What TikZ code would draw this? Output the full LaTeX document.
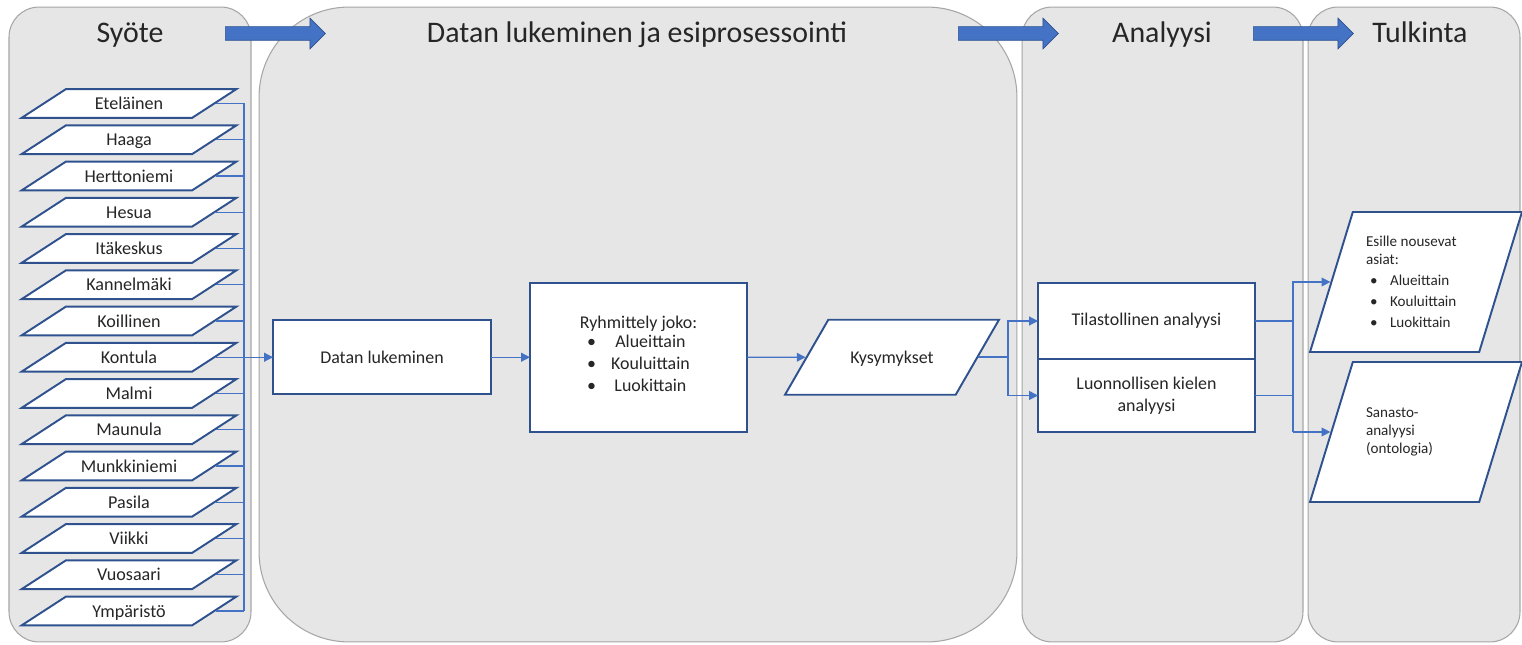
\documentclass[tikz,border=0pt]{standalone}
\usepackage{fontspec}
\setmainfont{Carlito}
\usetikzlibrary{shapes.geometric,shapes.arrows,arrows.meta}
\definecolor{panelgray}{HTML}{E6E6E6}
\definecolor{panelline}{HTML}{A6A6A6}
\definecolor{boxblue}{HTML}{2F528F}
\definecolor{linkblue}{HTML}{4472C4}
\tikzset{
>={Triangle[length=5pt,width=5pt]}, % small filled heads
panel/.style={draw=panelline, fill=panelgray, line width=0.6pt, inner sep=0pt},
title/.style={font=\fontsize{17}{20}\selectfont, text=black!85, anchor=base},
stagearrow/.style={single arrow, draw=boxblue, fill=linkblue, line width=0.4pt,
  minimum height=2cm, inner ysep=0.13cm, inner xsep=0pt,
  single arrow head extend=0.17cm, anchor=tail},
procbox/.style={draw=boxblue, fill=white, line width=1.1pt, align=center, outer sep=0pt,
  font=\fontsize{10.2}{12.5}\selectfont, text=black!85},
slanted/.style={trapezium, trapezium stretches body=true, inner xsep=0pt,
  draw=boxblue, fill=white, line width=1.1pt, text=black!85},
srcbox/.style={slanted, trapezium left angle=33, trapezium right angle=147,
  minimum width=4.3cm, text height=8pt, text depth=1pt, inner ysep=3.72pt,
  font=\fontsize{10.3}{12}\selectfont},
qbox/.style={slanted, trapezium left angle=60, trapezium right angle=120,
  minimum width=4.28cm, text height=8pt, text depth=1pt, inner ysep=16.84pt,
  font=\fontsize{10.2}{12}\selectfont},
outbox/.style={slanted, trapezium left angle=73, trapezium right angle=107,
  minimum width=4.24cm, inner ysep=0.35cm, font=\fontsize{8.6}{10.4}\selectfont},
link/.style={draw=linkblue, line width=0.6pt},
}
\newcommand{\outtext}[1]{\parbox[c][2.1cm][c]{2cm}{\raggedright #1}}
\newcommand{\outitem}{\hspace*{0.08cm}\makebox[0.4cm][l]{\textbullet}}
\begin{document}
\begin{tikzpicture}[x=0.02cm, y=-0.02cm]
\path[use as bounding box, fill=white] (0,0) rectangle (1522,645);
% stages
\node[panel, rounded corners=0.6cm, minimum width=4.84cm, minimum height=12.7cm] (inpanel) at (130,324.5) {};
\node[panel, rounded corners=1.8cm, minimum width=15.16cm, minimum height=12.7cm] (prepanel) at (638,324.5) {};
\node[panel, rounded corners=0.6cm, minimum width=5.62cm, minimum height=12.7cm] (anpanel) at (1162.5,324.5) {};
\node[panel, rounded corners=0.6cm, minimum width=4.24cm, minimum height=12.7cm] (outpanel) at (1414,324.5) {};
\node[title] (intitle) at (130,43) {Syöte};
\node[title] (pretitle) at (637,43) {Datan lukeminen ja esiprosessointi};
\node[title] (antitle) at (1162,43) {Analyysi};
\node[title] (outtitle) at (1420,43) {Tulkinta};
\node[stagearrow] (arrow1) at (225,33.5) {};
\node[stagearrow] (arrow2) at (958,33.5) {};
\node[stagearrow] (arrow3) at (1253,33.5) {};

% input files
\foreach \name [count=\i] in {Eteläinen,Haaga,Herttoniemi,Hesua,Itäkeskus,Kannelmäki,Koillinen,
  Kontula,Malmi,Maunula,Munkkiniemi,Pasila,Viikki,Vuosaari,Ympäristö}
  \node[srcbox] (src\i) at (129,{103.5+36.25*(\i-1)}) {\name};
\coordinate (bus) at (244,0);
\foreach \i in {1,...,15}
  \draw[link] (src\i.east) -- (src\i.east -| bus);
\draw[link] (src1.east -| bus) -- (src15.east -| bus);

% preprocessing
\node[procbox, minimum width=4.36cm, minimum height=1.48cm] (read) at (382,357.25) {Datan lukeminen};
\node[procbox, minimum width=4.34cm, minimum height=2.98cm] (group) at (638.5,357.25)
  {Ryhmittely joko:\\[-1pt]
   \begin{tabular}{@{}l@{\hspace{0.3cm}}c@{}}
   \textbullet & Alueittain\\
   \textbullet & Kouluittain\\
   \textbullet & Luokittain
   \end{tabular}};
\node[qbox] (questions) at (892,357.25) {Kysymykset};
\draw[link,->] (src8.east) -- (src8.east -| read.west);
\draw[link,->] (read) -- (group);
\draw[link,->] (group) -- (questions);

% analysis
\node[procbox, minimum width=4.34cm, minimum height=1.52cm] (stats) at (1146.5,321) {Tilastollinen analyysi};
\node[procbox, minimum width=4.34cm, minimum height=1.46cm, anchor=north] (nlp) at (stats.south) {Luonnollisen kielen\\analyysi};
\coordinate (split) at (1008,0);
\draw[link, line width=1pt] (questions.east) -- (questions.east -| split);
\draw[link,->] (questions.east -| split) |- (stats.west);
\draw[link,->] (questions.east -| split) |- (nlp.west);

% interpretation
\node[outbox] (topics) at (1416,282) {\outtext{Esille nousevat\\asiat:\\[1.6pt]
  \outitem Alueittain\\[1.6pt] \outitem Kouluittain\\[1.6pt] \outitem Luokittain}};
\node[outbox] (vocab) at (1416,432) {\outtext{Sanasto-\\analyysi\\(ontologia)}};
\coordinate (merge) at (1293,0);
\draw[link] (stats.east) -- (stats.east -| merge);
\draw[link, line width=1pt] (nlp.east) -- (nlp.east -| merge);
\draw[link,->] (merge |- vocab.west) -- (merge |- topics.west) -- (topics.west);
\draw[link,->] (merge |- vocab.west) -- (vocab.west);
\end{tikzpicture}
\end{document}
